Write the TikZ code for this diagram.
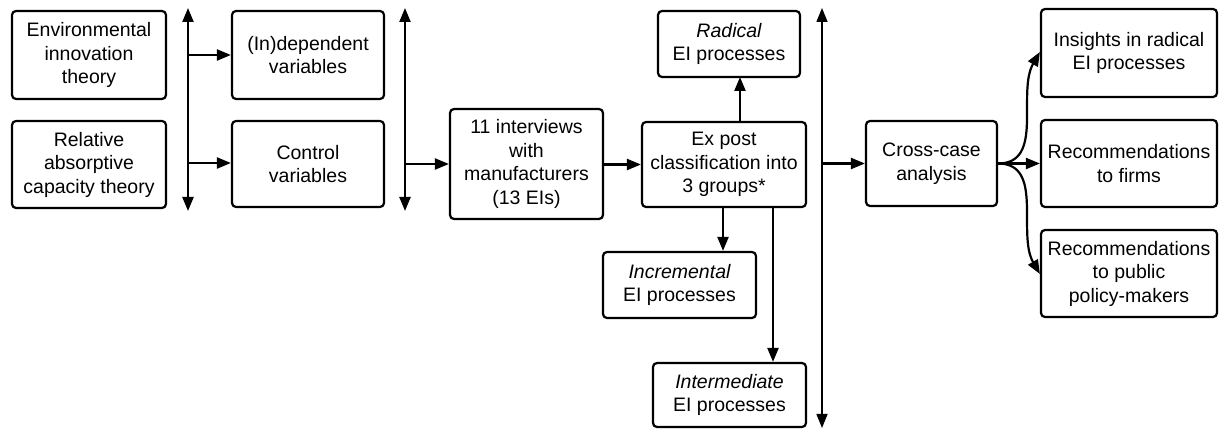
\documentclass[tikz,border=0pt]{standalone}
\usepackage{fontspec}
\setmainfont{Liberation Sans}
\usetikzlibrary{arrows.meta}
\tikzset{
  box/.style={draw, line width=2.2pt, rounded corners=4pt, align=center, inner sep=0pt,
    font=\fontsize{19.5}{23.5}\selectfont},
  arr/.style={line width=2.2pt, -{Triangle[length=14pt,width=11pt]}},
  dbl/.style={line width=2.2pt, {Triangle[length=14pt,width=11pt]}-{Triangle[length=14pt,width=11pt]}},
  thin dbl/.style={line width=1.5pt, {Triangle[length=14pt,width=11pt]}-{Triangle[length=14pt,width=11pt]}},
}
\begin{document}
\begin{tikzpicture}[x=1pt,y=-1pt]
\useasboundingbox[fill=white] (0,0) rectangle (1219,430);
% boxes
\node[box, minimum width=154pt, minimum height=88pt] (env) at (89,55) {Environmental\\innovation\\theory};
\node[box, minimum width=154pt, minimum height=87pt] (rel) at (89,164.5) {Relative\\absorptive\\capacity theory};
\node[box, minimum width=152pt, minimum height=88pt] (indep) at (308,55) {(In)dependent\\variables};
\node[box, minimum width=152pt, minimum height=86pt] (ctrl) at (308,164) {Control\\variables};
\node[box, minimum width=153pt, minimum height=110pt] (interv) at (526.5,164) {11 interviews\\with\\manufacturers\\(13 EIs)};
\node[box, minimum width=164pt, minimum height=85pt] (expost) at (724,164.5) {Ex post\\classification into\\3 groups*};
\node[box, minimum width=142pt, minimum height=66pt] (radical) at (729,44) {\itshape Radical\\EI processes};
\node[box, minimum width=153pt, minimum height=66pt] (incr) at (679.5,285) {\itshape Incremental\\EI processes};
\node[box, minimum width=153pt, minimum height=64pt] (inter) at (729.5,395) {\itshape Intermediate\\EI processes};
\node[box, minimum width=131pt, minimum height=85pt] (cross) at (931.5,163.5) {Cross-case\\analysis};
\node[box, minimum width=176pt, minimum height=88pt] (insight) at (1129,53) {Insights in radical\\EI processes};
\node[box, minimum width=176pt, minimum height=87pt] (firms) at (1129,163.5) {Recommendations\\to firms};
\node[box, minimum width=176pt, minimum height=87pt] (public) at (1129,273.5) {Recommendations\\to public\\policy-makers};
% vertical double arrows
\coordinate (v1t) at (188,8);
\coordinate (v1b) at (188,211);
\coordinate (v2t) at (405,8);
\coordinate (v2b) at (405,211);
\coordinate (v3t) at (822,8);
\coordinate (v3b) at (822,428);
\draw[dbl] (v1b) -- (v1t);
\draw[dbl] (v2b) -- (v2t);
\draw[thin dbl] (v3b) -- (v3t);
% horizontal arrows
\coordinate (h1a) at (188,55);
\coordinate (h1b) at (188,163);
\coordinate (h2) at (405,164);
\coordinate (h3) at (822,163.5);
\draw[arr] (h1a) -- (indep.west |- h1a);
\draw[arr] (h1b) -- (ctrl.west |- h1b);
\draw[arr] (h2) -- (interv.west |- h2);
\draw[arr] (interv.east |- expost) -- (expost.west);
\draw[arr] (h3) -- (cross.west);
% expost branches
\draw[arr] (740,122) -- (740,77);
\coordinate (eb1) at (723,207);
\coordinate (eb2) at (773,207);
\draw[arr] (eb1) -- (eb1 |- incr.north);
\draw[arr] (eb2) -- (eb2 |- inter.north);
% outputs
\draw[arr] (cross.east) to[out=0,in=240] (insight.west |- 0,52);
\draw[arr] (cross.east) -- (firms.west |- cross.east);
\draw[arr] (cross.east) to[out=0,in=120] (public.west |- 0,274);
\end{tikzpicture}
\end{document}
